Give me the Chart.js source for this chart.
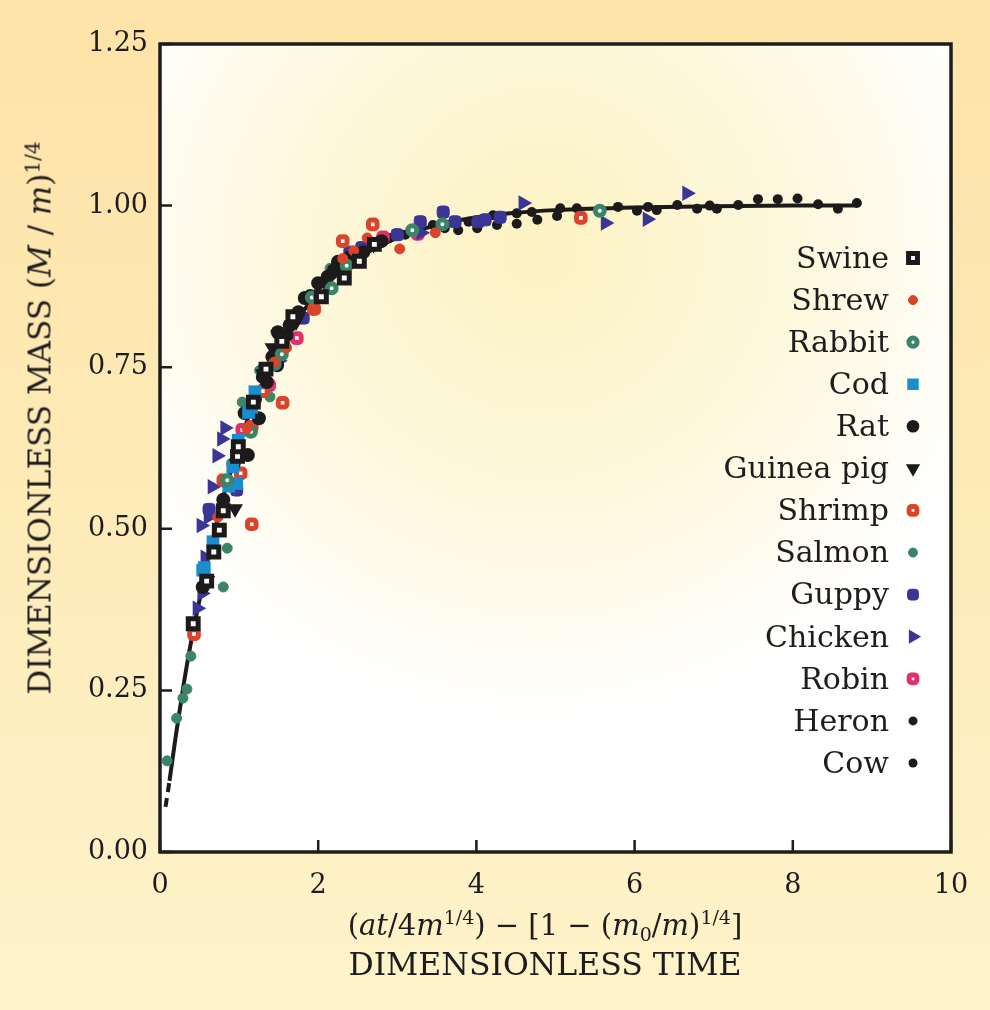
<!DOCTYPE html>
<html>
<head>
<meta charset="utf-8">
<script src="https://cdn.jsdelivr.net/npm/chart.js@4"></script>
<style>
  html, body { margin: 0; padding: 0; }
  #wrap {
    position: relative; width: 990px; height: 1010px; overflow: hidden;
    background: linear-gradient(to bottom, #fde3a7 0%, #fdebb8 50%, #fef3cb 100%);
    font-family: "DejaVu Serif", serif; color: #1e1c1c;
  }
  #box { position: absolute; left: 0; top: 0; width: 990px; height: 1010px; }
  .ttl { position: absolute; white-space: nowrap; font-size: 29px; line-height: 1; }
  .ttl sup, .ttl sub { font-size: 19px; line-height: 0; }
  #xt1 { left: 545px; top: 925px; transform: translate(-50%, -50%); }
  #xt2 { left: 545px; top: 965px; transform: translate(-50%, -50%); font-size: 31.5px; }
  #yt { left: 40px; top: 418px; transform: translate(-50%, -50%) rotate(-90deg); font-size: 31px; }
  #yt sup { font-size: 20px; }
</style>
</head>
<body>
<div id="wrap">
  <div id="box"><canvas id="chart"></canvas></div>
  <div class="ttl" id="xt1">(<i>at</i>/4<i>m</i><sup>1/4</sup>) &minus; [1 &minus; (<i>m</i><sub>0</sub>/<i>m</i>)<sup>1/4</sup>]</div>
  <div class="ttl" id="xt2">DIMENSIONLESS TIME</div>
  <div class="ttl" id="yt">DIMENSIONLESS MASS (<i>M</i> / <i>m</i>)<sup>1/4</sup></div>
</div>
<script>
// values: [dimensionless time, dimensionless mass]
var swine = [[0.42,0.353],[0.59,0.419],[0.68,0.464],[0.75,0.498],[0.80,0.528],[0.98,0.612],[0.99,0.627],
  [1.18,0.696],[1.34,0.747],[1.54,0.79],[1.68,0.828],[2.04,0.859],[2.33,0.888],[2.52,0.914],[2.71,0.94]];
var shrew = [[0.73,0.518],[1.10,0.655],[1.45,0.758],[1.60,0.78],[1.93,0.838],[2.00,0.86],[2.31,0.918],
  [2.45,0.93],[2.62,0.95],[3.03,0.933],[3.48,0.958]];
var rabbit = [[0.85,0.575],[1.15,0.65],[1.45,0.755],[1.54,0.77],[1.92,0.858],[2.17,0.872],[2.36,0.907],
  [3.19,0.962],[3.57,0.971],[5.56,0.992]];
var cod = [[0.54,0.436],[0.56,0.44],[0.67,0.48],[0.87,0.566],[0.92,0.596],[0.97,0.57],[0.99,0.637],
  [1.12,0.68],[1.16,0.688],[1.20,0.712]];
var rat = [[0.54,0.41],[0.80,0.545],[0.93,0.60],[1.07,0.679],[1.11,0.614],[1.20,0.70],[1.25,0.671],
  [1.35,0.727],[1.42,0.766],[1.48,0.753],[1.49,0.804],[1.60,0.80],[1.64,0.815],[1.75,0.835],[1.83,0.857],
  [1.90,0.86],[2.00,0.88],[2.12,0.89],[2.25,0.913],[2.40,0.92],[2.57,0.928],[2.80,0.945],[1.30,0.735],
  [1.56,0.785],[2.20,0.90]];
var guineaPig = [[0.60,0.42],[0.95,0.531],[1.30,0.74],[1.42,0.78],[1.49,0.80],[1.72,0.82],[2.09,0.88],[2.70,0.94]];
var shrimp = [[0.43,0.337],[0.80,0.575],[1.02,0.586],[1.16,0.507],[1.16,0.658],[1.30,0.713],[1.55,0.695],
  [1.95,0.84],[2.31,0.945],[2.69,0.971],[5.32,0.981]];
var salmon = [[0.09,0.141],[0.21,0.207],[0.29,0.238],[0.34,0.252],[0.39,0.303],[0.80,0.41],[0.85,0.47],
  [1.04,0.696],[1.26,0.745],[1.39,0.704],[1.70,0.83],[2.15,0.903]];
var guppy = [[0.62,0.53],[0.97,0.56],[1.48,0.77],[1.81,0.826],[2.40,0.928],[2.55,0.935],[3.00,0.955],
  [3.29,0.975],[3.58,0.99],[3.73,0.975],[4.02,0.975],[4.11,0.978],[4.30,0.982]];
var chicken = [[0.47,0.377],[0.52,0.505],[0.53,0.40],[0.57,0.456],[0.61,0.518],[0.66,0.565],[0.72,0.613],
  [0.78,0.639],[0.82,0.656],[1.50,0.76],[3.30,0.958],[4.59,1.004],[5.63,0.973],[6.16,0.979],[6.66,1.019]];
var robin = [[0.85,0.572],[1.04,0.653],[1.38,0.722],[1.73,0.795],[2.05,0.87],[2.82,0.951],[3.26,0.956]];
var heron = [[2.55,0.93],[2.90,0.95],[3.10,0.955],[3.45,0.97],[3.60,0.965],[3.77,0.962],[3.90,0.975],
  [4.01,0.965],[4.21,0.985],[4.26,0.97],[4.51,0.972],[4.51,0.988],[4.70,0.99],[4.77,0.978],[5.02,0.984],
  [5.06,0.996],[5.27,0.996]];
var cow = [[5.79,0.998],[6.03,0.992],[6.17,0.998],[6.28,0.993],[6.54,1.001],[6.79,0.995],[6.95,1.0],
  [7.04,0.995],[7.31,1.001],[7.56,1.01],[7.81,1.01],[8.06,1.011],[8.32,1.002],[8.57,0.995],[8.81,1.004]];

// fitted growth curve
var curveX = [0.07,0.12,0.2,0.3,0.4,0.5,0.6,0.7,0.8,0.9,1.0,1.2,1.4,1.6,1.8,2.0,2.3,2.6,3.0,3.5,4.0,4.5,5.0,6.0,7.0,8.0,8.8];
var curveY = [0.07,0.11,0.18,0.26,0.33,0.39,0.45,0.50,0.55,0.59,0.63,0.70,0.75,0.80,0.835,0.865,0.90,0.926,0.95,0.97,0.982,0.989,0.993,0.997,0.999,1.0,1.0];

var xTicks = [0, 2, 4, 6, 8, 10];
var yTicks = [0, 0.25, 0.5, 0.75, 1.0, 1.25];

var species = [
  { name: 'Swine', pts: swine, style: 'rect', r: 7, fill: '#ffffff', line: '#1c1a1b', bw: 5 },
  { name: 'Shrew', pts: shrew, style: 'circle', r: 5, fill: '#d9452b', line: '#d9452b', bw: 1 },
  { name: 'Rabbit', pts: rabbit, style: 'circle', r: 4.5, fill: '#ffffff', line: '#3b8468', bw: 5 },
  { name: 'Cod', pts: cod, style: 'rect', r: 9, fill: '#1a8dcd', line: '#1a8dcd', bw: 0 },
  { name: 'Rat', pts: rat, style: 'circle', r: 7, fill: '#1c1a1b', line: '#1c1a1b', bw: 0 },
  { name: 'Guinea pig', pts: guineaPig, style: 'triangle', r: 7.5, rot: 180, fill: '#1c1a1b', line: '#1c1a1b', bw: 1.5 },
  { name: 'Shrimp', pts: shrimp, style: 'rectRounded', r: 5, fill: '#ffffff', line: '#d9452b', bw: 5 },
  { name: 'Salmon', pts: salmon, style: 'circle', r: 5, fill: '#3c8568', line: '#3c8568', bw: 1 },
  { name: 'Guppy', pts: guppy, style: 'rectRounded', r: 7, fill: '#3b3596', line: '#3b3596', bw: 1 },
  { name: 'Chicken', pts: chicken, style: 'triangle', r: 7.5, rot: 90, fill: '#3b3596', line: '#3b3596', bw: 1.5 },
  { name: 'Robin', pts: robin, style: 'rectRounded', r: 5, fill: '#ffffff', line: '#e2306a', bw: 5 },
  { name: 'Heron', pts: heron, style: 'circle', r: 5, fill: '#1c1a1b', line: '#1c1a1b', bw: 0 },
  { name: 'Cow', pts: cow, style: 'circle', r: 5, fill: '#1c1a1b', line: '#1c1a1b', bw: 0 }
];

var datasets = species.map(function (s) {
  return {
    label: s.name,
    data: s.pts.map(function (p) { return { x: p[0], y: p[1] }; }),
    showLine: false,
    pointStyle: s.style,
    pointRadius: s.r,
    pointRotation: s.rot || 0,
    pointBackgroundColor: s.fill,
    pointBorderColor: s.line,
    pointBorderWidth: s.bw,
    pointHoverRadius: s.r
  };
});

datasets.push({
  label: 'fit',
  data: curveX.map(function (x, i) { return { x: x, y: curveY[i] }; }),
  showLine: true,
  pointRadius: 0,
  borderColor: '#1c1a1b',
  borderWidth: 4,
  cubicInterpolationMode: 'monotone',
  order: 20,
  segment: {
    borderDash: function (ctx) { return ctx.p0DataIndex === 0 ? [9, 6] : undefined; }
  }
});

var INK = '#1e1c1c';

var plotBack = {
  id: 'plotBack',
  beforeDraw: function (chart) {
    var a = chart.chartArea, ctx = chart.ctx;
    var g = ctx.createRadialGradient(540, 250, 0, 540, 250, 560);
    g.addColorStop(0, '#fcf2c2');
    g.addColorStop(0.45, '#fef8dd');
    g.addColorStop(0.85, '#ffffff');
    g.addColorStop(1, '#ffffff');
    ctx.save();
    ctx.fillStyle = g;
    ctx.fillRect(a.left, a.top, a.right - a.left, a.bottom - a.top);
    ctx.restore();
  },
  beforeDatasetsDraw: function (chart) {
    var a = chart.chartArea, ctx = chart.ctx;
    var xs = chart.scales.x, ys = chart.scales.y;
    ctx.save();
    ctx.strokeStyle = INK;
    ctx.lineWidth = 2.5;
    ctx.beginPath();
    xTicks.forEach(function (v) {
      var px = xs.getPixelForValue(v);
      ctx.moveTo(px, a.bottom);
      ctx.lineTo(px, a.bottom - 12);
    });
    yTicks.forEach(function (v) {
      var py = ys.getPixelForValue(v);
      ctx.moveTo(a.left, py);
      ctx.lineTo(a.left + 12, py);
    });
    ctx.stroke();
    ctx.lineWidth = 3.5;
    ctx.strokeRect(a.left, a.top, a.right - a.left, a.bottom - a.top);
    ctx.restore();
  }
};

var sideLegend = {
  id: 'sideLegend',
  afterDraw: function (chart) {
    var ctx = chart.ctx;
    ctx.save();
    ctx.font = '30px "DejaVu Serif"';
    ctx.textAlign = 'right';
    ctx.textBaseline = 'middle';
    species.forEach(function (s, i) {
      var y = 258 + i * 42.08;
      ctx.fillStyle = INK;
      ctx.fillText(s.name, 889, y + 2);
      ctx.fillStyle = s.fill;
      ctx.strokeStyle = s.line;
      ctx.lineWidth = s.bw;
      Chart.helpers.drawPoint(ctx, {
        pointStyle: s.style, radius: s.r * 0.9, rotation: s.rot || 0, borderWidth: s.bw
      }, 913, y);
    });
    ctx.restore();
  }
};

new Chart(document.getElementById('chart'), {
  type: 'scatter',
  data: { datasets: datasets },
  options: {
    responsive: true,
    maintainAspectRatio: false,
    animation: false,
    layout: { padding: { left: 0, top: 44, right: 39, bottom: 0 } },
    plugins: { legend: { display: false }, tooltip: { enabled: false } },
    scales: {
      x: {
        type: 'linear', min: 0, max: 10,
        grid: { display: false, drawTicks: false },
        border: { display: false },
        ticks: {
          stepSize: 2, padding: 18, color: INK,
          font: { family: 'DejaVu Serif', size: 27 },
          maxRotation: 0
        },
        afterFit: function (s) { s.height = 158; }
      },
      y: {
        type: 'linear', min: 0, max: 1.25,
        grid: { display: false, drawTicks: false },
        border: { display: false },
        ticks: {
          stepSize: 0.25, padding: 12, color: INK,
          font: { family: 'DejaVu Serif', size: 27 },
          callback: function (v) { return v.toFixed(2); }
        },
        afterFit: function (s) { s.width = 160; }
      }
    }
  },
  plugins: [plotBack, sideLegend]
});
</script>
</body>
</html>
